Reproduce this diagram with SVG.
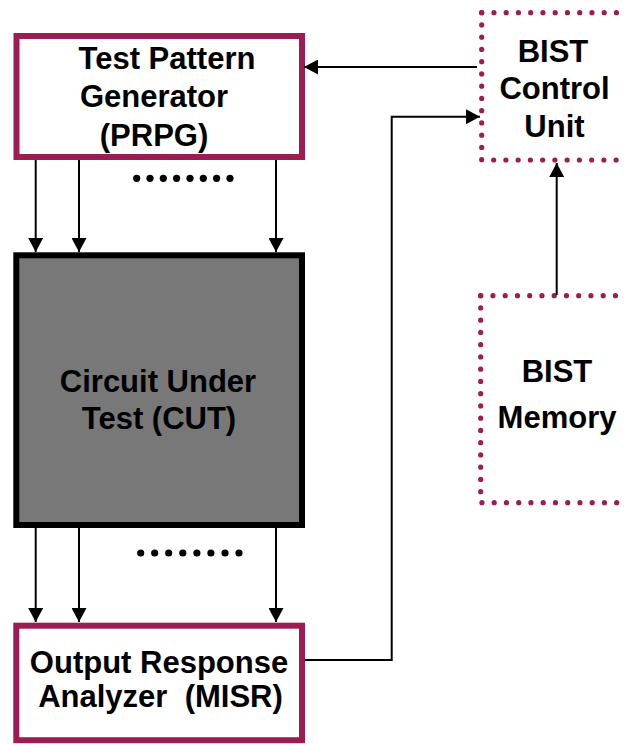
<svg xmlns="http://www.w3.org/2000/svg" width="625" height="745" viewBox="0 0 625 745">
<defs>
<marker id="ah" markerUnits="userSpaceOnUse" markerWidth="15" markerHeight="15" viewBox="0 0 14 15" refX="14" refY="7.5" orient="auto">
<path d="M0,0 L14,7.5 L0,15 Z" fill="#000"/>
</marker>
<style>
.lbl{font-family:"Liberation Sans",Arial,Helvetica,sans-serif;font-weight:bold;font-size:31px;fill:#000;text-anchor:middle;white-space:pre}
.solid{fill:#fff;stroke:#9B1D52;stroke-width:6}
.dot{fill:none;stroke:#9B1D52;stroke-width:5.2;stroke-linecap:round;stroke-dasharray:0 12.25}
.wire{fill:none;stroke:#000;stroke-width:2}
.arr{fill:none;stroke:#000;stroke-width:2;marker-end:url(#ah)}
.bul{fill:#000}
</style>
</defs>
<rect width="625" height="745" fill="#fff"/>
<g id="tpg">
<rect class="solid" x="16.5" y="36" width="285.5" height="121"/>
<text class="lbl" x="167" y="69">Test Pattern</text>
<text class="lbl" x="154" y="107">Generator</text>
<text class="lbl" x="154" y="146">(PRPG)</text>
</g>
<g id="cut">
<rect x="16.3" y="255.3" width="285.7" height="269.7" fill="#787878" stroke="#000" stroke-width="6"/>
<text class="lbl" x="158" y="392">Circuit Under</text>
<text class="lbl" x="159" y="429">Test (CUT)</text>
</g>
<g id="ora">
<rect class="solid" x="16.3" y="625.7" width="285.7" height="114.5"/>
<text class="lbl" x="159" y="673">Output Response</text>
<text class="lbl" x="160.5" y="707">Analyzer  (MISR)</text>
</g>
<g id="bist-control">
<path class="dot" d="M481.7,12.7 H650"/>
<path class="dot" d="M481.7,12.7 V160 H650"/>
<text class="lbl" x="553" y="62">BIST</text>
<text class="lbl" x="554.5" y="99">Control</text>
<text class="lbl" x="554.5" y="137">Unit</text>
</g>
<g id="bist-memory">
<path class="dot" d="M480.7,295.7 H650"/>
<path class="dot" d="M480.7,295.7 V502.7 H650"/>
<text class="lbl" x="557" y="382">BIST</text>
<text class="lbl" x="557" y="428">Memory</text>
</g>
<g id="connectors">
<path class="arr" d="M477,67 H304"/>
<path class="arr" d="M556.7,295 V163"/>
<path class="arr" d="M305,660 H391.7 V116.7 H480"/>
<path class="arr" d="M35.7,160 V252"/>
<path class="arr" d="M79,160 V252"/>
<path class="arr" d="M276,160 V252"/>
<path class="arr" d="M35.7,528 V622"/>
<path class="arr" d="M79,528 V622"/>
<path class="arr" d="M276,528 V622"/>
<g class="bul">
<circle cx="136.7" cy="178.3" r="3.6"/><circle cx="150" cy="178.3" r="3.6"/><circle cx="163.3" cy="178.3" r="3.6"/><circle cx="176.6" cy="178.3" r="3.6"/><circle cx="190" cy="178.3" r="3.6"/><circle cx="203.3" cy="178.3" r="3.6"/><circle cx="216.6" cy="178.3" r="3.6"/><circle cx="230" cy="178.3" r="3.6"/>
<circle cx="140.7" cy="553" r="3.6"/><circle cx="154.7" cy="553" r="3.6"/><circle cx="168.7" cy="553" r="3.6"/><circle cx="182.8" cy="553" r="3.6"/><circle cx="196.9" cy="553" r="3.6"/><circle cx="210.9" cy="553" r="3.6"/><circle cx="225" cy="553" r="3.6"/><circle cx="239" cy="553" r="3.6"/>
</g>
</g>
</svg>
